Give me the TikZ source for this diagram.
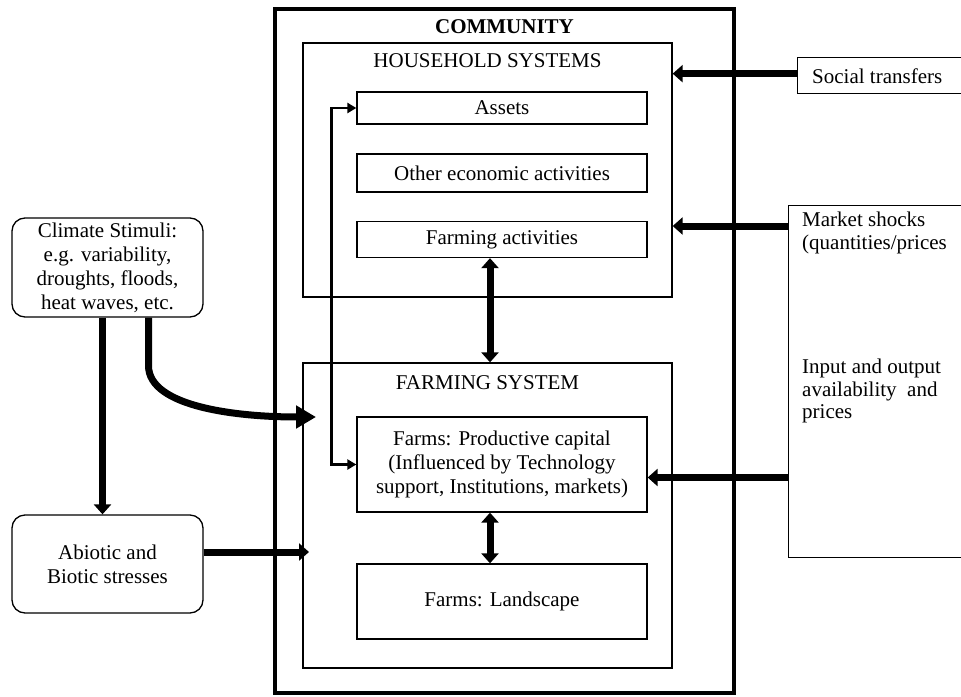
\documentclass[tikz,border=0pt]{standalone}
\usepackage{fontspec}
\setmainfont{Liberation Serif}
\usetikzlibrary{arrows.meta}
\begin{document}
\begin{tikzpicture}[x=1pt,y=-1pt,
  every node/.style={font=\fontsize{21}{24}\selectfont, inner sep=0pt, align=center},
  box/.style={draw, line width=1.3pt},
  roundbox/.style={draw, line width=1.3pt, rounded corners=13pt},
  frame/.style={draw, line width=3.5pt},
  bigarrow/.style={line width=7pt, -{Triangle[length=10pt,width=17pt]}},
  bigboth/.style={line width=7pt, {Triangle[length=10pt,width=17pt]}-{Triangle[length=10pt,width=17pt]}},
  curvearrow/.style={line width=7pt, -{Triangle[length=20pt,width=22pt]}},
  linkarrow/.style={line width=2.6pt, {Triangle[length=9pt,width=10pt]}-{Triangle[length=9pt,width=10pt]}}
]
\useasboundingbox (0,0) rectangle (961,696);

% community frame with its two subsystems
\node[frame, minimum width=459, minimum height=684] (community) at (504.5,351) {};
\node[font=\fontsize{21}{24}\selectfont\bfseries] (commtitle) at (504.5,27) {COMMUNITY};

\node[box, minimum width=369, minimum height=254] (household) at (487.5,170) {};
\node (hhtitle) at (487.5,61) {HOUSEHOLD SYSTEMS};
\node[box, minimum width=290, minimum height=32] (assets) at (502,108) {Assets};
\node[box, minimum width=290, minimum height=38] (otherecon) at (502,173) {Other economic activities};
\node[box, minimum width=290, minimum height=36] (farmact) at (502,239.5) {Farming activities};

\node[box, minimum width=369, minimum height=305] (farming) at (487.5,515.5) {};
\node (fstitle) at (487.5,383) {FARMING SYSTEM};
\node[box, minimum width=290, minimum height=95] (prodcap) at (502,464.5)
  {Farms: Productive capital\\(Influenced by Technology\\support, Institutions, markets)};
\node[box, minimum width=290, minimum height=75] (landscape) at (502,601.5) {Farms: Landscape};

% external drivers
\node[box, minimum width=170, minimum height=36, anchor=north west] (social) at (797,57) {};
\node[anchor=west] (socialtext) at (812,76) {Social transfers};

\node[box, minimum width=180, minimum height=352, anchor=north west] (market) at (788,205) {};
\node[anchor=north west, align=left, font=\fontsize{21}{23}\selectfont] (markettext) at (802,212)
  {Market shocks\\(quantities/prices};
\node[anchor=north west, align=left, font=\fontsize{21}{22.5}\selectfont] (inputtext) at (802,359)
  {Input and output\\availability\ \ and\\prices};

\node[roundbox, minimum width=191, minimum height=99] (climate) at (107.5,267.5)
  {Climate Stimuli:\\e.g. variability,\\droughts, floods,\\heat waves, etc.};
\node[roundbox, minimum width=191, minimum height=98] (abiotic) at (107.5,564)
  {Abiotic and\\Biotic stresses};

% connectors
\coordinate (climatein) at (316,417);
\coordinate (abioticin) at (309,552);

\draw[bigarrow] ([xshift=-5]climate.south) -- ([xshift=-5]abiotic.north);
\draw[curvearrow] ([xshift=41]climate.south) -- ++(0,48)
  .. controls ++(0,42) and (240,417) .. (climatein);
\draw[bigarrow] ([yshift=12]abiotic.east) -- (abioticin);

\draw[bigarrow] ([yshift=2]social.west) -- ([yshift=2]social.west -| household.east);
\draw[bigarrow] ([yshift=-21]market.north west) -- ([yshift=-21]market.north west -| household.east);
\draw[bigarrow] ([yshift=-13]prodcap.east -| market.west) -- ([yshift=-13]prodcap.east);

\draw[bigboth] ([xshift=-12]farmact.south) -- ([xshift=-12]farmact.south |- farming.north);
\draw[bigboth] ([xshift=-12]prodcap.south) -- ([xshift=-12]landscape.north);

\draw[linkarrow] (assets.west) -- ++(-25,0) |- (prodcap.west);
\end{tikzpicture}
\end{document}
